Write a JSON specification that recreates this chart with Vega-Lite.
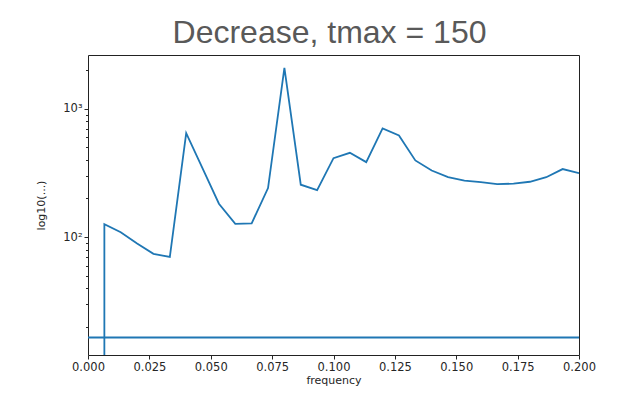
{
  "$schema": "https://vega.github.io/schema/vega-lite/v6.json",
  "width": 491,
  "height": 300,
  "autosize": "none",
  "padding": {"left": 88, "top": 55, "right": 48, "bottom": 41},
  "background": "white",
  "title": {
    "text": "Decrease, tmax = 150",
    "font": "Liberation Sans",
    "fontSize": 32,
    "fontWeight": "normal",
    "color": "#595959",
    "anchor": "middle",
    "offset": 5,
    "dx": -4
  },
  "config": {
    "view": {"stroke": "#222222", "strokeWidth": 1},
    "axis": {
      "labelFont": "DejaVu Sans",
      "titleFont": "DejaVu Sans",
      "labelFontSize": 11.5,
      "titleFontSize": 11,
      "titleFontWeight": "normal",
      "labelColor": "#262626",
      "titleColor": "#262626",
      "tickColor": "#262626",
      "domain": false,
      "grid": false,
      "labelFlush": false
    }
  },
  "data": {
    "values": [
      {"k": 0, "freq": 0.006667, "power": 1},
      {"k": 1, "freq": 0.006667, "power": 126},
      {"k": 2, "freq": 0.013333, "power": 109},
      {"k": 3, "freq": 0.02, "power": 89},
      {"k": 4, "freq": 0.026667, "power": 74},
      {"k": 5, "freq": 0.033333, "power": 70},
      {"k": 6, "freq": 0.04, "power": 645},
      {"k": 7, "freq": 0.046667, "power": 343},
      {"k": 8, "freq": 0.053333, "power": 182},
      {"k": 9, "freq": 0.06, "power": 127},
      {"k": 10, "freq": 0.066667, "power": 128},
      {"k": 11, "freq": 0.073333, "power": 241},
      {"k": 12, "freq": 0.08, "power": 2084},
      {"k": 13, "freq": 0.086667, "power": 256},
      {"k": 14, "freq": 0.093333, "power": 232},
      {"k": 15, "freq": 0.1, "power": 412},
      {"k": 16, "freq": 0.106667, "power": 454},
      {"k": 17, "freq": 0.113333, "power": 384},
      {"k": 18, "freq": 0.12, "power": 703},
      {"k": 19, "freq": 0.126667, "power": 620},
      {"k": 20, "freq": 0.133333, "power": 396},
      {"k": 21, "freq": 0.14, "power": 330},
      {"k": 22, "freq": 0.146667, "power": 293},
      {"k": 23, "freq": 0.153333, "power": 276},
      {"k": 24, "freq": 0.16, "power": 268},
      {"k": 25, "freq": 0.166667, "power": 259},
      {"k": 26, "freq": 0.173333, "power": 261},
      {"k": 27, "freq": 0.18, "power": 270},
      {"k": 28, "freq": 0.186667, "power": 293},
      {"k": 29, "freq": 0.193333, "power": 339},
      {"k": 30, "freq": 0.2, "power": 315}
    ]
  },
  "layer": [
    {
      "mark": {"type": "line", "color": "#1f77b4", "strokeWidth": 1.8, "clip": true},
      "encoding": {
        "x": {
          "field": "freq",
          "type": "quantitative",
          "title": "frequency",
          "scale": {"domain": [0, 0.2], "nice": false, "zero": false},
          "axis": {
            "values": [0, 0.025, 0.05, 0.075, 0.1, 0.125, 0.15, 0.175, 0.2],
            "format": ".3f",
            "tickSize": 4,
            "labelPadding": 2,
            "titlePadding": 2
          }
        },
        "y": {
          "field": "power",
          "type": "quantitative",
          "title": "log10(...)",
          "scale": {"type": "log", "domain": [12.05, 2626], "nice": false},
          "axis": {
            "values": [20, 30, 40, 50, 60, 70, 80, 90, 100, 200, 300, 400, 500, 600, 700, 800, 900, 1000, 2000],
            "labelExpr": "datum.value == 100 ? '10²' : (datum.value == 1000 ? '10³' : '')",
            "tickSize": {"condition": {"test": "datum.value == 100 || datum.value == 1000", "value": 4}, "value": 2.5},
            "labelPadding": 2,
            "titlePadding": 16
          }
        },
        "order": {"field": "k", "type": "quantitative"}
      }
    },
    {
      "data": {"values": [{"level": 16.5}]},
      "mark": {"type": "rule", "color": "#1f77b4", "strokeWidth": 1.8},
      "encoding": {
        "y": {"field": "level", "type": "quantitative"}
      }
    }
  ]
}
